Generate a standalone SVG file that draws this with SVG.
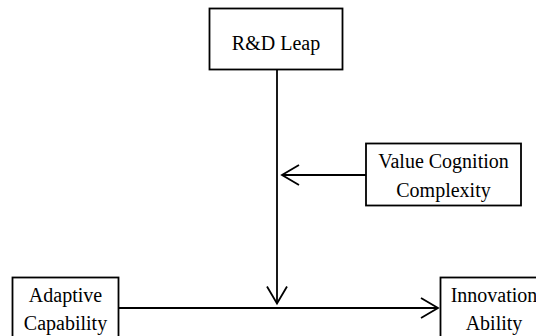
<svg xmlns="http://www.w3.org/2000/svg" width="536" height="336" viewBox="0 0 536 336">
<style>
.box{fill:#fff;stroke:#000;stroke-width:1.8}
.lbl{font-family:"Liberation Serif","Times New Roman",serif;font-size:20px;fill:#000;text-anchor:middle}
.edge{stroke:#000;stroke-width:1.8;fill:none}
</style>
<defs>
<marker id="open" viewBox="0 0 20 22" refX="18" refY="11" markerWidth="20" markerHeight="22" markerUnits="userSpaceOnUse" orient="auto">
<path d="M1,1 L18,11 L1,21" fill="none" stroke="#000" stroke-width="1.8"/>
</marker>
</defs>
<rect width="536" height="336" fill="#fff"/>
<g id="connectors">
<line class="edge" x1="277" y1="69" x2="277" y2="303.5" marker-end="url(#open)"/>
<line class="edge" x1="366" y1="175" x2="282" y2="175" marker-end="url(#open)"/>
<line class="edge" x1="118" y1="308" x2="438" y2="308" marker-end="url(#open)"/>
</g>
<g id="rd-leap">
<rect class="box" x="209.5" y="8.5" width="133" height="61"/>
<text class="lbl" x="276" y="50">R&amp;D Leap</text>
</g>
<g id="value-cognition">
<rect class="box" x="366" y="143.5" width="155" height="62"/>
<text class="lbl" x="443.5" y="168">Value Cognition</text>
<text class="lbl" x="443.5" y="196.5">Complexity</text>
</g>
<g id="adaptive">
<rect class="box" x="12.5" y="277.5" width="106" height="70"/>
<text class="lbl" x="65.5" y="301.5">Adaptive</text>
<text class="lbl" x="65.5" y="330">Capability</text>
</g>
<g id="innovation">
<rect class="box" x="440.5" y="277.5" width="106" height="70"/>
<text class="lbl" x="494" y="301.5">Innovation</text>
<text class="lbl" x="494" y="330">Ability</text>
</g>
</svg>
